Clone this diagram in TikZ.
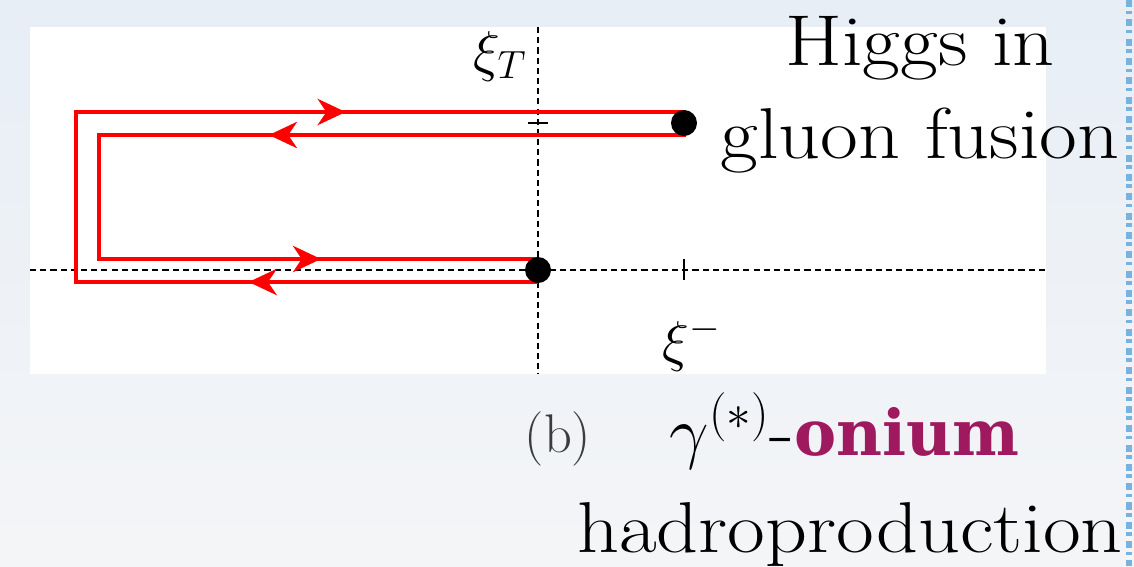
\RequirePackage{fix-cm}
\documentclass[tikz,border=0pt]{standalone}
\usepackage{fontspec}
\newfontfamily\slabfont{DejaVu Serif}
\newfontfamily\widefont[FakeStretch=1.14]{Latin Modern Roman}
\usetikzlibrary{arrows.meta,positioning,decorations.markings}
\definecolor{SkyTint}{RGB}{231,238,246}
\definecolor{MistGray}{RGB}{244,245,247}
\definecolor{LoopRed}{RGB}{255,0,0}
\definecolor{OniumPurple}{RGB}{158,25,94}
\definecolor{LabelGray}{RGB}{60,60,60}
\definecolor{EdgeBlue}{RGB}{120,178,222}
\tikzset{
  looptip/.tip={Stealth[length=16pt,width=15pt,inset=5pt]},
  axisline/.style={draw=black, line width=1.6pt, dash pattern=on 3.5pt off 2.3pt},
  tickline/.style={draw=black, line width=1.6pt},
  dotnode/.style={circle, fill=black, inner sep=0pt, minimum size=14.8pt},
  loopline/.style={
    draw=LoopRed, line width=2pt, line join=miter,
    postaction={decorate},
    decoration={markings,
      mark=at position 0.120 with {\arrow{looptip}},
      mark=at position 0.374 with {\arrow{looptip}},
      mark=at position 0.696 with {\arrow{looptip}},
      mark=at position 0.910 with {\arrow{looptip}}}
  },
  bigtext/.style={font=\widefont\fontsize{41}{49}\selectfont, anchor=base, inner sep=0pt},
  axislabel/.style={font=\fontsize{32}{38}\selectfont, anchor=base, inner sep=0pt}
}

\begin{document}
\begin{tikzpicture}[x=0.02cm, y=-0.02cm]
  % backdrop and white panel
  \shade[top color=SkyTint, bottom color=MistGray] (0,0) rectangle (1134,566);
  \useasboundingbox (0,0) rectangle (1134,566);
  \fill[white] (30,27) rectangle (1046,374);
  \draw[EdgeBlue, line width=3.5pt, dash pattern=on 4pt off 2pt on 2pt off 3pt] (1129,0) -- (1129,566);

  % axes with ticks
  \coordinate (xleft) at (30,270);
  \coordinate (xright) at (1046,270);
  \coordinate (ytop) at (538,27);
  \coordinate (ybottom) at (538,374);
  \draw[axisline] (xleft) -- (xright);
  \draw[axisline] (ytop) -- (ybottom);
  \draw[tickline] (528,123) -- (548,123);
  \draw[tickline] (684,259) -- (684,280);

  \node[axislabel] (xiT) at (500,70) {$\xi_T$};
  \node[axislabel] (ximinus) at (692,360) {$\xi^-$};

  % staple-shaped loop
  \coordinate (outbl) at (76,282);
  \coordinate (outtl) at (76,112);
  \coordinate (outtr) at (684,112);
  \coordinate (intr) at (684,135);
  \coordinate (intl) at (99,135);
  \coordinate (inbl) at (99,259);
  \coordinate (origin) at (538,270);
  \draw[loopline] (origin |- outbl) -- (outbl) -- (outtl) -- (outtr)
    -- (intr) -- (intl) -- (inbl) -- (origin |- inbl);

  % end points of the loop
  \node[dotnode] (startdot) at (origin) {};
  \node[dotnode] (enddot) at (684,123) {};

  % captions
  \node[bigtext] (higgs) at (920,65) {Higgs in};
  \node[bigtext] (gluon) at (920,158) {gluon fusion};
  \node[font=\fontsize{31}{36}\selectfont, anchor=base, inner sep=0pt, text=LabelGray] (panel) at (558,452) {(b)};
  \node[bigtext, anchor=base east] (onium) at (1020,455) {{\fontsize{40}{48}\selectfont$\gamma^{(*)}$}-{\slabfont\fontsize{36}{42}\selectfont\bfseries\color{OniumPurple}onium}};
  \node[bigtext] (hadro) at (850,552) {hadroproduction};
\end{tikzpicture}
\end{document}
